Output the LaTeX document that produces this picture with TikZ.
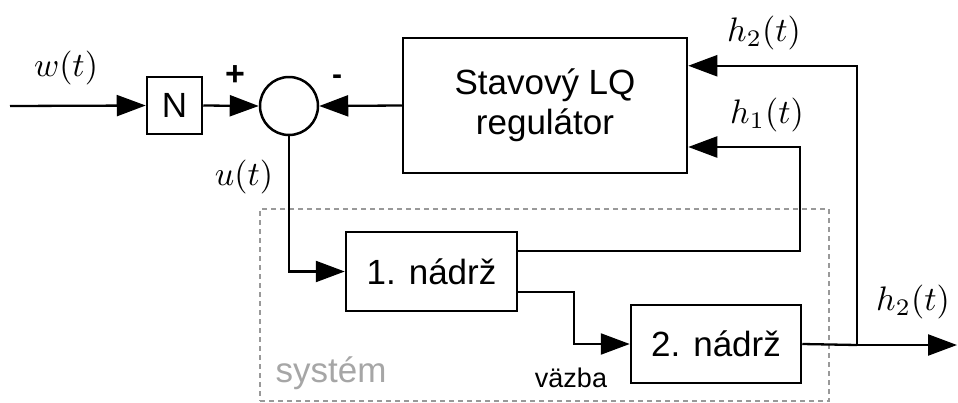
\documentclass[tikz,border=0pt]{standalone}
\usepackage{fontspec}
\setmainfont{Liberation Sans}
\usetikzlibrary{arrows.meta,calc}
\begin{document}
\begin{tikzpicture}[x=1pt,y=-1pt,
  conn/.style={line width=2.3pt, -{Triangle[length=29pt,width=21pt]}},
  wire/.style={line width=2.3pt},
  blk/.style={draw, line width=2.5pt, rectangle, inner sep=0pt, font=\fontsize{35}{40}\selectfont, align=center},
  lbl/.style={inner sep=0pt, font=\fontsize{10}{12}\selectfont, scale=3.4, transform shape},
  sysbox/.style={draw=black!40, line width=2pt, dash pattern=on 5pt off 4pt, inner sep=0pt}
]
\useasboundingbox (0,0) rectangle (958,402);
\node[sysbox, minimum width=569pt, minimum height=192pt] (sys) at (544.5,305) {};
\node[blk, minimum width=55pt, minimum height=57pt] (N) at (174.5,105.5) {N};
\node[draw, circle, line width=2.5pt, minimum size=58pt, inner sep=0pt] (S) at (289,106) {};
\node[blk, minimum width=284pt, minimum height=135pt] (R) at (545,105.5) {Stavový LQ\\regulátor};
\node[blk, minimum width=171pt, minimum height=79pt] (T1) at (431.5,271.5) {1. nádrž};
\node[blk, minimum width=170pt, minimum height=78pt] (T2) at (716,344) {2. nádrž};

\coordinate (in) at (10,106);
\coordinate (j) at (857,345);
\coordinate (out) at (957,345);
\coordinate (h1c) at (800,147);

\draw[conn] (in) -- (N.west);
\draw[conn] (N.east) -- (S.west);
\draw[conn] (R.west) -- (S.east);
\draw[conn] (S.south) |- (T1.west);
\draw[wire] (T2.east) -- (j);
\draw[conn] (j) -- (out);
\draw[conn] (j) |- ($(R.north east)+(0,29)$);
\draw[conn] ($(T1.east)+(0,-20.5)$) -| (h1c) -- (h1c -| R.east);
\draw[conn] ($(T1.east)+(0,20.5)$) -- ++(56,0) |- (T2.west);

\node[lbl] (wl) at (66,68) {$w(t)$};
\node[lbl] (ul) at (244,177) {$u(t)$};
\node[lbl] (h2l) at (764,33) {$h_2(t)$};
\node[lbl] (h1l) at (767,115) {$h_1(t)$};
\node[lbl] (h2o) at (913,302) {$h_2(t)$};
\node[inner sep=0pt, font=\bfseries\fontsize{34}{34}\selectfont] (plus) at (235,76) {+};
\node[inner sep=0pt, font=\bfseries\fontsize{30}{30}\selectfont] (minus) at (337,80) {-};
\node[inner sep=0pt, font=\fontsize{35}{38}\selectfont, text=black!35] (sysl) at (331,373) {systém};
\node[inner sep=0pt, font=\fontsize{27}{30}\selectfont] (vaz) at (571,378) {väzba};
\end{tikzpicture}
\end{document}
